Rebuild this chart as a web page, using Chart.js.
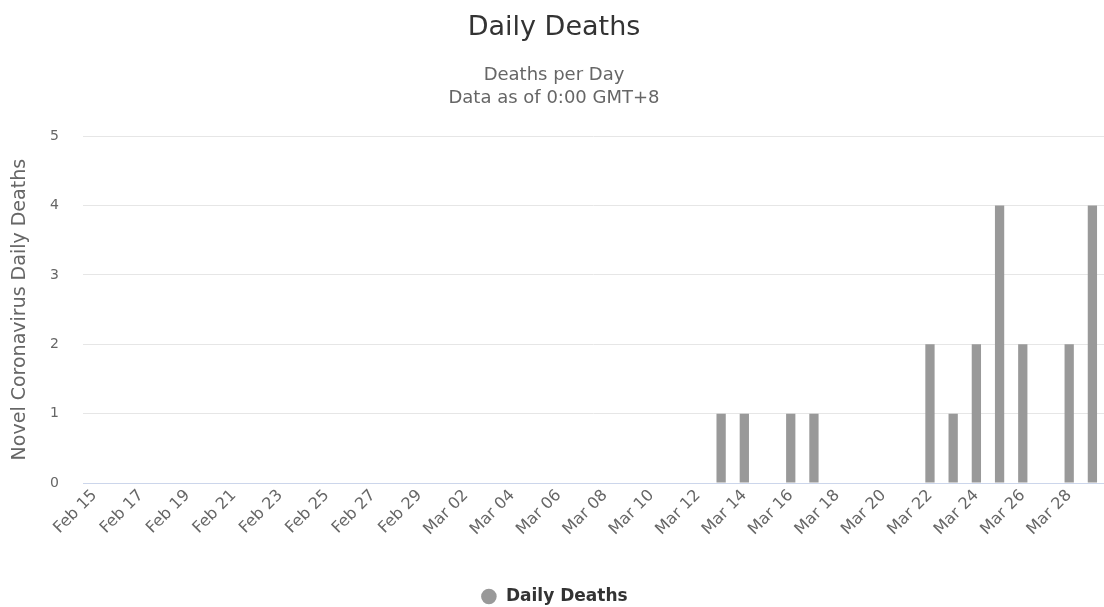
<!DOCTYPE html>
<html>
<head>
<meta charset="utf-8">
<script src="https://cdn.jsdelivr.net/npm/chart.js@4/dist/chart.umd.min.js"></script>
<style>
  html, body { margin: 0; padding: 0; background: #fff; }
  #wrap { width: 1104px; height: 607px; }
</style>
</head>
<body>
<div id="wrap"><canvas id="deathsChart" width="1104" height="607"></canvas></div>
<script>
    // Fechas (Feb 15 - Mar 29)
    const fechas = [
        'Feb 15', 'Feb 16', 'Feb 17', 'Feb 18', 'Feb 19', 'Feb 20', 'Feb 21', 'Feb 22',
        'Feb 23', 'Feb 24', 'Feb 25', 'Feb 26', 'Feb 27', 'Feb 28', 'Feb 29',
        'Mar 01', 'Mar 02', 'Mar 03', 'Mar 04', 'Mar 05', 'Mar 06', 'Mar 07', 'Mar 08',
        'Mar 09', 'Mar 10', 'Mar 11', 'Mar 12', 'Mar 13', 'Mar 14', 'Mar 15', 'Mar 16',
        'Mar 17', 'Mar 18', 'Mar 19', 'Mar 20', 'Mar 21', 'Mar 22', 'Mar 23', 'Mar 24',
        'Mar 25', 'Mar 26', 'Mar 27', 'Mar 28', 'Mar 29'
    ];
    const muertes = [
        0, 0, 0, 0, 0, 0, 0, 0,
        0, 0, 0, 0, 0, 0, 0,
        0, 0, 0, 0, 0, 0, 0, 0,
        0, 0, 0, 0, 1, 1, 0, 1,
        1, 0, 0, 0, 0, 2, 1, 2,
        4, 2, 0, 2, 4
    ];
    const yTicks = [0, 1, 2, 3, 4, 5];

    const fuente = 'DejaVu Sans';

    const ctx = document.getElementById('deathsChart').getContext('2d');
    const deathsChart = new Chart(ctx, {
        type: 'bar',
        data: {
            labels: fechas,
            datasets: [{
                label: 'Daily Deaths',
                data: muertes,
                backgroundColor: '#999999',
                borderWidth: 0,
                barPercentage: 0.5,
                categoryPercentage: 0.8
            }]
        },
        options: {
            responsive: false,
            animation: false,
            layout: {
                padding: { left: 4, right: 0, top: 8, bottom: -8 }
            },
            scales: {
                y: {
                    min: yTicks[0],
                    max: yTicks[yTicks.length - 1],
                    afterBuildTicks: (axis) => { axis.ticks = yTicks.map(v => ({ value: v })); },
                    afterFit: (axis) => { axis.width = 79; },
                    border: { display: false },
                    grid: { color: '#e6e6e6', drawTicks: false },
                    ticks: {
                        color: '#666666',
                        padding: 24,
                        font: { family: fuente, size: 14 }
                    },
                    title: {
                        display: true,
                        text: 'Novel Coronavirus Daily Deaths',
                        color: '#666666',
                        font: { family: fuente, size: 19 },
                        padding: { top: 5, bottom: 0 }
                    }
                },
                x: {
                    border: { display: true, color: '#ccd6eb' },
                    grid: { display: false, drawTicks: false },
                    ticks: {
                        autoSkip: false,
                        maxRotation: 45,
                        minRotation: 45,
                        color: '#666666',
                        padding: 3,
                        font: { family: fuente, size: 16 },
                        callback: function(value, index) {
                            return index % 2 === 0 ? this.getLabelForValue(value) : '';
                        }
                    },
                    // espacio extra entre etiquetas y leyenda, sin relleno lateral
                    afterFit: (axis) => {
                        axis.height += 44;
                        axis.paddingLeft = 0;
                        axis.paddingRight = 0;
                    }
                }
            },
            plugins: {
                title: {
                    display: true,
                    text: 'Daily Deaths',
                    color: '#333333',
                    font: { family: fuente, size: 27, weight: 'normal' },
                    padding: { top: 4, bottom: 19 }
                },
                subtitle: {
                    display: true,
                    text: ['Deaths per Day', 'Data as of 0:00 GMT+8'],
                    color: '#666666',
                    font: { family: fuente, size: 18, weight: 'normal', lineHeight: 1.3 },
                    padding: { top: 0, bottom: 26 }
                },
                legend: {
                    position: 'bottom',
                    labels: {
                        usePointStyle: true,
                        pointStyle: 'circle',
                        boxHeight: 11,
                        color: '#333333',
                        font: { family: fuente, size: 17, weight: 'bold' },
                        padding: 2
                    }
                },
                tooltip: { enabled: false }
            }
        }
    });
</script>
</body>
</html>
